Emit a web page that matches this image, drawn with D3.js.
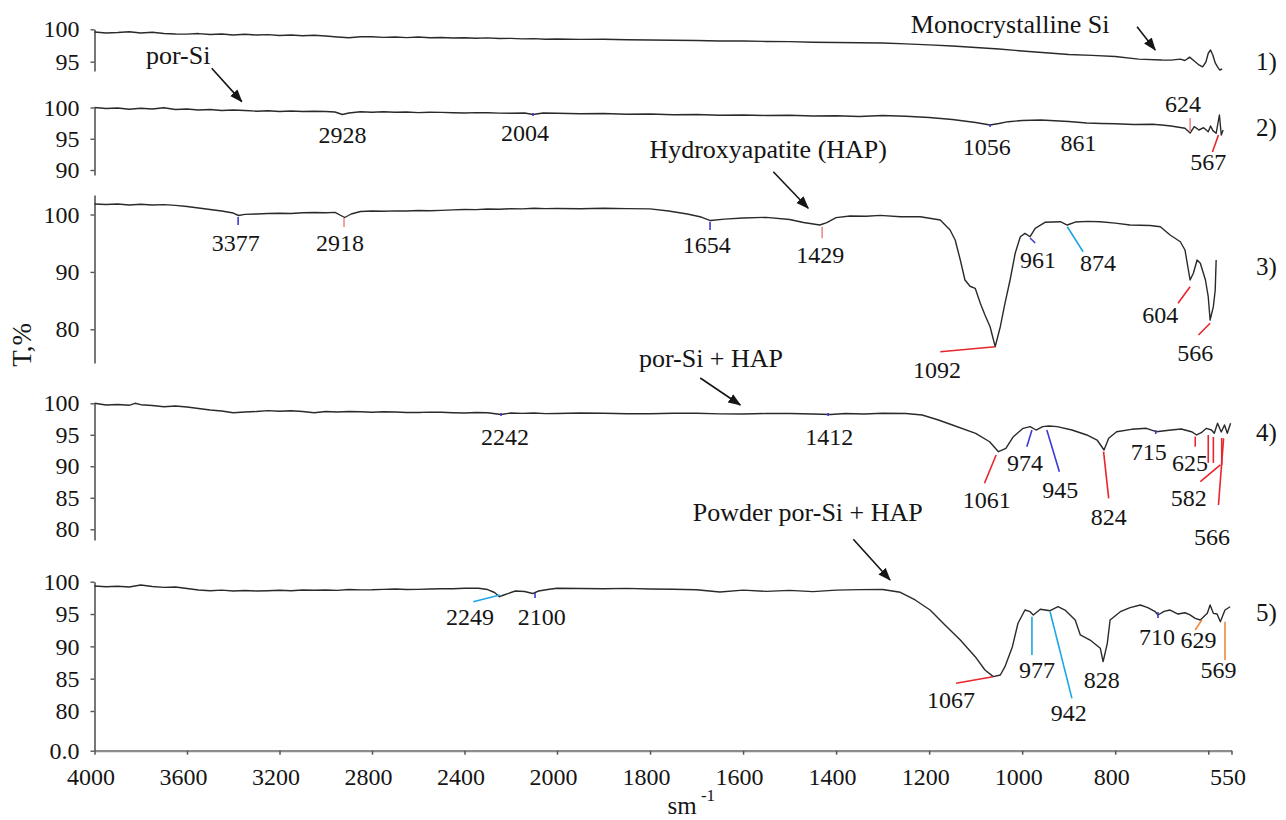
<!DOCTYPE html>
<html><head><meta charset="utf-8">
<script src="https://cdn.jsdelivr.net/npm/d3@7"></script>
<style>
body{margin:0;background:#fff}
svg{display:block}
text{font-family:"Liberation Serif","Times New Roman",serif;fill:#151515}
</style></head>
<body><svg id="c" width="1286" height="820"></svg>
<script>
// ---------- DATA ----------
const xTicks = [4000,3600,3200,2800,2400,2000,1800,1600,1400,1200,1000,800,600,550];
const xTickLabels = ["4000","3600","3200","2800","2400","2000","1800","1600","1400","1200","1000","800","","550"];
const panelNames = ["1)","2)","3)","4)","5)"];
const yTicks1 = [95,100], yTicks2 = [90,95,100], yTicks3 = [80,90,100], yTicks4 = [80,85,90,95,100], yTicks5 = [0,80,85,90,95,100];

const spec1 = [[4000,99.58],[3950,99.43],[3900,99.5],[3850,99.62],[3800,99.43],[3750,99.54],[3700,99.35],[3650,99.27],[3600,99.25],[3550,99.34],[3500,99.2],[3450,99.27],[3400,99.12],[3350,99.23],[3300,99.12],[3250,99.18],[3200,99.04],[3150,99.12],[3100,99.0],[3050,99.07],[3000,98.97],[2950,98.82],[2900,98.7],[2850,98.84],[2800,98.84],[2750,98.76],[2700,98.8],[2650,98.72],[2600,98.8],[2550,98.7],[2500,98.74],[2450,98.66],[2400,98.7],[2350,98.62],[2300,98.68],[2250,98.58],[2200,98.6],[2150,98.52],[2100,98.56],[2050,98.47],[2000,98.5],[1950,98.44],[1900,98.46],[1850,98.38],[1800,98.35],[1750,98.3],[1700,98.28],[1650,98.2],[1600,98.2],[1550,98.12],[1500,98.1],[1450,98.0],[1400,97.96],[1350,97.92],[1300,97.88],[1250,97.75],[1200,97.6],[1150,97.42],[1100,97.2],[1050,96.95],[1000,96.65],[950,96.38],[900,96.1],[850,95.98],[800,95.8],[750,95.4],[700,95.26],[680,95.24],[660,95.4],[650,95.18],[640,95.7],[630,95.1],[620,94.5],[612,94.2],[605,94.95],[600,96.3],[595,96.8],[590,96.0],[585,94.8],[580,94.2],[575,93.7],[570,93.9]];

const spec2 = [[4000,100.0],[3950,99.84],[3900,99.92],[3850,99.71],[3800,99.87],[3750,99.76],[3700,99.95],[3650,99.68],[3600,99.76],[3550,99.6],[3500,99.68],[3450,99.52],[3400,99.6],[3350,99.52],[3300,99.41],[3250,99.47],[3200,99.36],[3150,99.44],[3100,99.36],[3050,99.41],[3000,99.36],[2960,99.28],[2928,98.88],[2900,99.12],[2850,99.31],[2800,99.23],[2750,99.33],[2700,99.23],[2650,99.28],[2600,99.18],[2550,99.24],[2500,99.22],[2450,99.16],[2400,99.12],[2350,99.18],[2300,99.17],[2250,99.1],[2200,99.09],[2140,99.12],[2104,98.88],[2060,99.12],[2000,99.07],[1950,98.99],[1900,99.04],[1850,98.91],[1800,98.96],[1750,98.83],[1700,98.88],[1650,98.75],[1600,98.8],[1550,98.72],[1500,98.75],[1450,98.64],[1400,98.69],[1350,98.56],[1300,98.72],[1250,98.59],[1200,98.4],[1150,98.08],[1100,97.6],[1069,97.2],[1050,97.44],[1030,97.73],[1000,97.92],[960,98.0],[930,97.87],[900,97.76],[861,97.52],[830,97.44],[800,97.39],[760,97.28],[720,97.33],[700,97.2],[680,97.04],[660,96.8],[650,96.67],[639,95.92],[630,96.93],[620,96.4],[610,96.77],[600,96.13],[595,97.04],[590,96.3],[583,95.87],[576,98.8],[572,95.6],[568,96.4]];

const spec3 = [[4000,101.83],[3950,101.74],[3900,101.83],[3850,101.65],[3800,101.78],[3750,101.65],[3700,101.72],[3650,101.6],[3600,101.39],[3550,101.13],[3500,100.87],[3450,100.61],[3400,100.26],[3377,99.83],[3350,100.03],[3300,100.09],[3250,100.17],[3200,100.23],[3150,100.17],[3100,100.3],[3050,100.35],[3000,100.3],[2960,100.38],[2918,99.48],[2890,100.09],[2850,100.52],[2800,100.61],[2750,100.56],[2700,100.64],[2650,100.6],[2600,100.7],[2550,100.66],[2500,100.73],[2450,100.8],[2400,100.87],[2350,100.85],[2300,100.96],[2250,100.92],[2200,101.0],[2150,100.98],[2100,101.08],[2050,101.02],[2000,101.05],[1950,101.0],[1900,101.08],[1850,101.02],[1800,100.99],[1760,100.61],[1720,100.09],[1690,99.56],[1670,98.95],[1640,99.2],[1600,99.39],[1550,99.51],[1500,99.13],[1470,98.6],[1435,98.17],[1420,98.6],[1400,99.45],[1370,99.75],[1335,99.7],[1305,99.85],[1262,99.62],[1219,99.62],[1176,99.04],[1155,97.3],[1144,95.56],[1133,92.07],[1123,88.59],[1112,87.5],[1101,87.14],[1090,84.53],[1080,82.5],[1069,80.45],[1058,76.97],[1047,80.45],[1037,84.53],[1026,88.59],[1015,93.24],[1004,96.13],[994,96.72],[983,96.13],[972,97.6],[951,98.64],[918,98.75],[903,98.17],[886,98.69],[860,98.8],[832,98.75],[800,98.5],[768,98.17],[725,98.08],[703,97.87],[682,96.43],[660,95.26],[650,93.82],[639,88.59],[632,89.76],[624,92.07],[617,91.5],[606,88.59],[600,85.68],[596,81.62],[589,83.94],[585,86.85],[583,92.07]];

const spec4 = [[4000,100.0],[3950,99.73],[3900,99.81],[3850,99.68],[3825,100.0],[3800,99.78],[3750,99.65],[3700,99.46],[3650,99.57],[3600,99.41],[3550,99.17],[3500,98.94],[3450,98.78],[3400,98.51],[3350,98.62],[3300,98.7],[3250,98.83],[3200,98.73],[3150,98.81],[3100,98.7],[3050,98.51],[3000,98.7],[2950,98.62],[2900,98.7],[2850,98.65],[2800,98.57],[2750,98.66],[2700,98.62],[2650,98.54],[2600,98.54],[2550,98.6],[2500,98.57],[2450,98.5],[2400,98.46],[2350,98.54],[2300,98.51],[2242,98.22],[2200,98.46],[2150,98.4],[2100,98.46],[2050,98.36],[2000,98.38],[1950,98.45],[1900,98.43],[1850,98.34],[1800,98.33],[1750,98.41],[1700,98.41],[1650,98.32],[1600,98.3],[1550,98.38],[1500,98.38],[1450,98.3],[1412,98.22],[1380,98.38],[1340,98.3],[1300,98.41],[1250,98.38],[1215,98.14],[1180,97.35],[1150,96.56],[1100,95.24],[1070,93.9],[1051,92.32],[1035,92.86],[1019,94.7],[998,96.03],[983,96.29],[970,95.76],[956,96.29],[942,96.4],[925,96.29],[893,95.76],[861,94.97],[839,94.17],[824,92.59],[814,94.44],[797,95.49],[765,95.87],[733,96.03],[712,95.49],[680,95.76],[658,95.92],[636,95.49],[625,94.97],[615,95.33],[604,96.03],[593,95.76],[587,95.24],[580,96.83],[572,95.45],[565,96.56],[559,95.24],[552,96.83]];

const spec5 = [[4000,99.33],[3950,99.23],[3900,99.3],[3850,99.18],[3800,99.49],[3750,99.26],[3700,99.13],[3650,99.18],[3600,98.95],[3550,98.72],[3500,98.61],[3450,98.69],[3400,98.56],[3350,98.64],[3300,98.56],[3250,98.61],[3200,98.67],[3150,98.61],[3100,98.72],[3050,98.67],[3000,98.72],[2950,98.66],[2900,98.79],[2850,98.74],[2800,98.76],[2750,98.82],[2700,98.87],[2650,98.8],[2600,98.82],[2550,98.88],[2500,98.92],[2450,98.9],[2400,98.98],[2340,98.98],[2300,98.79],[2270,98.33],[2249,97.68],[2230,97.94],[2180,98.56],[2140,98.48],[2105,98.17],[2080,98.56],[2040,98.79],[2000,98.98],[1950,98.94],[1900,98.92],[1850,98.96],[1800,98.87],[1750,98.84],[1700,98.76],[1650,98.41],[1600,98.69],[1550,98.5],[1500,98.66],[1450,98.47],[1400,98.69],[1350,98.77],[1300,98.79],[1262,98.36],[1230,97.17],[1198,95.62],[1166,93.3],[1133,90.98],[1101,88.4],[1080,86.34],[1062,85.31],[1047,85.57],[1037,86.85],[1021,89.95],[1009,93.57],[994,95.62],[983,95.36],[976,94.85],[961,95.73],[940,95.51],[923,96.13],[908,95.62],[886,94.08],[875,91.76],[854,90.98],[832,89.7],[826,87.63],[817,90.47],[811,94.08],[789,95.36],[768,96.0],[746,96.4],[730,96.0],[714,95.36],[708,94.85],[695,95.4],[682,95.62],[665,95.0],[650,95.2],[640,94.9],[628,94.34],[617,94.08],[602,95.11],[596,96.4],[589,95.11],[581,95.0],[574,93.81],[564,95.62],[553,96.13]];

// peak labels: [text, wavenumber of label centre, T of label baseline]
const labels1 = [];
const labels2 = [["2928",2928,94.32],["2004",2138,94.59],["1056",1076,92.45],["861",879,92.99],["624",654,99.28],["567",600,90.0]];
const labels3 = [["3377",3389,93.59],["2918",2938,93.59],["1654",1678,93.24],["1429",1434,91.55],["1092",1183,71.5],["961",966,90.68],["874",837,90.16],["604",703,81.1],["566",628,74.48]];
const labels4 = [["2242",2225,93.38],["1412",1415,93.38],["1061",1076,83.38],["974",994,89.21],["945",918,84.97],["824",814,80.73],["715",728,91.05],["625",639,89.21],["582",642,83.65],["566",592,77.56]];
const labels5 = [["2249",2376,93.35],["2100",2066,93.35],["1067",1153,80.46],["977",968,85.1],["942",900,59.2],["828",829,83.56],["710",710,90.26],["629",621,89.74],["569",578,85.1]];

// peak marker segments: [wn1, T1, wn2, T2, kind]
const marks1 = [];
const marks2 = [[2104,99.12,2104,98.64,"b"],[1069,97.36,1069,96.88,"b"],[639,98.32,639,96.08,"p"],[578,95.6,591,92.88,"r"]];
const marks3 = [[3379,99.56,3379,98.17,"b"],[2921,99.39,2921,97.82,"p"],[1671,98.75,1671,97.3,"b"],[1430,97.87,1430,95.85,"p"],[1176,76.1,1058,76.97,"r"],[983,95.9,972,95.03,"b"],[903,97.87,869,93.52,"c"],[639,87.42,665,84.53,"r"],[596,81.05,621,79.01,"r"]];
const marks4 = [[2242,98.46,2242,97.98,"b"],[1417,98.46,1417,97.98,"b"],[1056,91.79,1081,87.3,"r"],[979,95.76,990,93.11,"b"],[947,95.76,920,89.14,"b"],[825,92.32,814,84.92,"r"],[713,95.76,713,95.13,"b"],[628,94.7,628,93.11,"r"],[617,87.56,574,90.21,"r"],[600,94.97,600,90.54,"r"],[589,94.65,589,90.54,"r"],[571,94.49,571,90.21,"r"],[578,83.86,567,94.44,"r"]];
const marks5 = [[2362,96.91,2247,97.94,"c"],[2095,98.25,2095,97.48,"b"],[1142,84.28,1063,85.31,"r"],[979,94.59,979,88.66,"c"],[940,95.36,893,81.96,"c"],[708,95.31,708,94.38,"b"],[614,94.08,628,92.53,"o"],[564,93.81,564,87.89,"o"]];

// annotations: [panel, text, wn, T]
const notes = [[0,"Monocrystalline Si",1026,99.38],[0,"por-Si",3638,94.64],[2,"Hydroxyapatite (HAP)",1546,109.79],[3,"por-Si + HAP",1669,105.76],[4,"Powder por-Si + HAP",1461,109.44]];
// arrows: [panel, wn1, T1, wn2, T2]
const arrows = [[0,753,100.4,714,96.81],[0,3493,93.98,3363,88.83],[2,1535,107.46,1460,101.08],[3,1692,104.02,1606,99.73],[4,1363,106.56,1284,100.26]];

// ---------- LAYOUT / STYLE ----------
const spectra = [spec1,spec2,spec3,spec4,spec5];
const labelSets = [labels1,labels2,labels3,labels4,labels5];
const markSets = [marks1,marks2,marks3,marks4,marks5];
const tickSets = [yTicks1,yTicks2,yTicks3,yTicks4,yTicks5];
const layout = [
  {domain:[93.56,100], range:[71,29.3], num:93.77},
  {domain:[89.2,100], range:[175,107.5], num:95.39},
  {domain:[74.13,103.4], range:[363,195], num:89.51},
  {domain:[78.3,100], range:[540,403.3], num:93.97},
  {domain:[0,80,100], range:[750.7,711,581.7], num:93.87}
];
const colors = {r:"#e8262b", p:"#f08c8c", b:"#3b3bd6", c:"#1ea5e6", o:"#f0893a"};
const FONT = '"Liberation Serif","Times New Roman",serif';

const svg = d3.select("#c");
svg.append("defs").append("marker").attr("id","ah")
  .attr("viewBox","0 0 12 10").attr("refX",11).attr("refY",5)
  .attr("markerWidth",13).attr("markerHeight",11).attr("markerUnits","userSpaceOnUse")
  .attr("orient","auto")
  .append("path").attr("d","M0,0.5 L12,5 L0,9.5 Z").attr("fill","#151515");

const x = d3.scaleLinear().domain([4000,2000,550]).range([94.5,557,1231.5]);
const yScales = layout.map(L => d3.scaleLinear().domain(L.domain).range(L.range));

// x axis
const xa = svg.append("g").attr("transform","translate(0,750.7)")
  .call(d3.axisBottom(x).tickValues(xTicks).tickSize(4).tickSizeOuter(0).tickPadding(13)
    .tickFormat((d,i)=>xTickLabels[i]));
xa.attr("font-family",FONT).attr("font-size",24);
xa.select(".domain").attr("stroke","#8c8c8c").attr("stroke-width",2.2);
xa.selectAll(".tick line").attr("stroke","#555").attr("stroke-width",1.5);
xa.selectAll(".tick text").attr("fill","#151515").attr("dx",-4);

layout.forEach((L,i)=>{
  const y = yScales[i];
  const g = svg.append("g");
  const ax = g.append("g").attr("transform",`translate(${x(4000)},0)`)
    .call(d3.axisLeft(y).tickValues(tickSets[i]).tickSize(4).tickSizeOuter(0).tickPadding(11)
      .tickFormat(v => v===0 ? "0.0" : String(v)));
  ax.attr("font-family",FONT).attr("font-size",24);
  ax.select(".domain").attr("stroke","#555").attr("stroke-width",1.6);
  ax.selectAll(".tick line").attr("stroke","#555").attr("stroke-width",1.4);
  ax.selectAll(".tick text").attr("fill","#151515");

  g.append("path").datum(spectra[i])
    .attr("d", d3.line().x(d=>x(d[0])).y(d=>y(d[1])))
    .attr("fill","none").attr("stroke","#2a2a2a").attr("stroke-width",1.4)
    .attr("stroke-linejoin","round");

  g.selectAll("line.mk").data(markSets[i]).join("line").attr("class","mk")
    .attr("x1",d=>x(d[0])).attr("y1",d=>y(d[1]))
    .attr("x2",d=>x(d[2])).attr("y2",d=>y(d[3]))
    .attr("stroke",d=>colors[d[4]]).attr("stroke-width",1.6);

  g.selectAll("text.pk").data(labelSets[i]).join("text").attr("class","pk")
    .attr("x",d=>x(d[1])).attr("y",d=>y(d[2]))
    .attr("text-anchor","middle").attr("font-size",24).text(d=>d[0]);

  g.append("text").attr("x", x.range()[2] + 35).attr("y", y(L.num))
    .attr("text-anchor","middle").attr("font-size",25).text(panelNames[i]);
});

svg.selectAll("text.note").data(notes).join("text").attr("class","note")
  .attr("x",d=>x(d[2])).attr("y",d=>yScales[d[0]](d[3]))
  .attr("text-anchor","middle").attr("font-size",26).text(d=>d[1]);

svg.selectAll("line.arr").data(arrows).join("line").attr("class","arr")
  .attr("x1",d=>x(d[1])).attr("y1",d=>yScales[d[0]](d[2]))
  .attr("x2",d=>x(d[3])).attr("y2",d=>yScales[d[0]](d[4]))
  .attr("stroke","#151515").attr("stroke-width",1.6).attr("marker-end","url(#ah)");

// axis titles
svg.append("text").attr("transform","translate(31,345) rotate(-90)")
  .attr("text-anchor","middle").attr("font-size",27).text("T,%");
svg.append("text").attr("x",682).attr("y",814).attr("text-anchor","middle").attr("font-size",25).text("sm");
svg.append("text").attr("x",708).attr("y",801).attr("text-anchor","middle").attr("font-size",17).text("-1");
</script>
</body></html>
